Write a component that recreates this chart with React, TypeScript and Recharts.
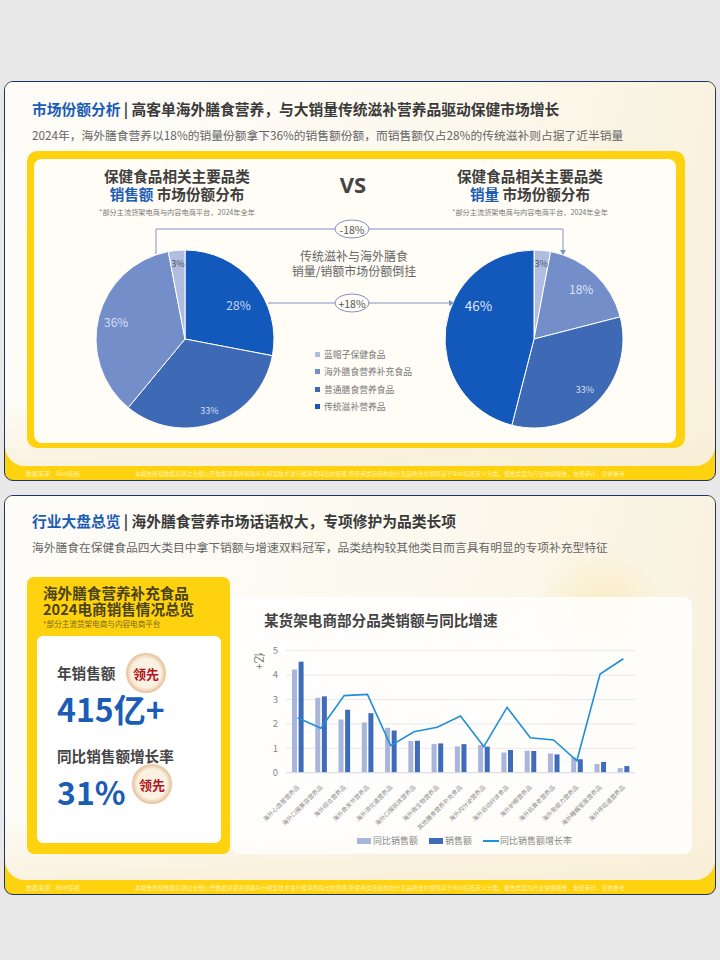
import React from 'react';
import { PieChart, Pie, Cell, ComposedChart, Bar, Line, XAxis, YAxis, CartesianGrid, Legend } from 'recharts';

const pieCategories = ['蓝帽子保健食品', '海外膳食营养补充食品', '普通膳食营养食品', '传统滋补营养品'];
const salesValueShare = [28, 33, 36, 3];
const salesValueCats = [3, 2, 1, 0];
const salesVolumeShare = [3, 18, 33, 46];
const salesVolumeCats = [0, 1, 2, 3];
const pieColors = ['#B1BDE0', '#748EC9', '#3E69B5', '#1358BB'];

const barCategories = ['海外心血管营养品', '海外口服美容营养品', '海外综合营养品', '海外骨关节营养品', '海外消化道营养品', '海外口服抗体营养品', '海外微生物营养品', '其他膳食营养补充食品', '海外内分泌营养品', '海外运动纤体食品', '海外护眼营养品', '海外抗衰老营养品', '海外免疫力营养品', '海外睡眠家居营养品', '海外呼吸道营养品'];
const prevSales = [4.23, 3.07, 2.18, 2.06, 1.84, 1.3, 1.18, 1.08, 1.13, 0.83, 0.9, 0.79, 0.63, 0.36, 0.19];
const sales = [4.55, 3.13, 2.58, 2.44, 1.73, 1.31, 1.2, 1.17, 1.07, 0.93, 0.89, 0.75, 0.55, 0.44, 0.27];
const growth = [2.25, 1.82, 3.16, 3.21, 1.11, 1.68, 1.86, 2.32, 1.07, 2.68, 1.43, 1.34, 0.49, 4.04, 4.67];
const yTicks = [0, 1, 2, 3, 4, 5];

const barData = barCategories.map((name, i) => ({ name, prev: prevSales[i], sales: sales[i], growth: growth[i] }));
const leftData = salesValueShare.map((value, i) => ({ name: pieCategories[salesValueCats[i]], value, cat: salesValueCats[i] }));
const rightData = salesVolumeShare.map((value, i) => ({ name: pieCategories[salesVolumeCats[i]], value, cat: salesVolumeCats[i] }));

const leftLabelStyle = [
  { r: 63, dx: 5, dy: 6, size: 12, fill: '#C9D6F0' },
  { r: 75, dx: -1, dy: 1, size: 9, fill: '#D5DFF3' },
  { r: 71, dx: 0, dy: 0, size: 12, fill: '#D5DFF3' },
  { r: 76, dx: 0, dy: 0, size: 9, fill: '#4A4F66' },
];
const rightLabelStyle = [
  { r: 76, dx: 0, dy: 0, size: 9, fill: '#4A4F66' },
  { r: 69, dx: 0, dy: 0, size: 12, fill: '#DCE4F6' },
  { r: 72, dx: 0, dy: 0, size: 9, fill: '#D5DFF3' },
  { r: 56, dx: 0, dy: -27, size: 13.5, fill: '#DCE4F6' },
];

const FONT = '"Noto Sans CJK SC", "Noto Sans", sans-serif';
const abs = (left: number, top: number, extra: React.CSSProperties = {}): React.CSSProperties => ({ position: 'absolute', left, top, ...extra });

function pieLabel(styles: typeof leftLabelStyle) {
  return (p: any) => {
    const s = styles[p.index];
    const rad = (p.midAngle * Math.PI) / 180;
    const x = p.cx + s.r * Math.cos(rad) + s.dx;
    const y = p.cy - s.r * Math.sin(rad) + s.dy;
    return (
      <text x={x} y={y} textAnchor="middle" dominantBaseline="central" fontSize={s.size} fill={s.fill} fontFamily={FONT}>
        {p.value}%
      </text>
    );
  };
}

function SharePie({ data, styles, left }: { data: typeof leftData; styles: typeof leftLabelStyle; left: number }) {
  return (
    <div style={abs(left, 239)}>
      <PieChart width={200} height={200} margin={{ top: 0, right: 0, bottom: 0, left: 0 }}>
        <Pie data={data} dataKey="value" cx={100} cy={100} outerRadius={89} innerRadius={0} startAngle={90} endAngle={-270} stroke="#FFFFFF" strokeWidth={1} label={pieLabel(styles)} labelLine={false} isAnimationActive={false}>
          {data.map((d) => <Cell key={d.name} fill={pieColors[d.cat]} />)}
        </Pie>
      </PieChart>
    </div>
  );
}

function XTick(props: any) {
  const { x, y, payload } = props;
  return (
    <text transform={`translate(${x + 2},${y + 7}) rotate(-45)`} textAnchor="end" fontSize={6} fill="#8A8A8A" fontFamily={FONT}>
      {payload.value}
    </text>
  );
}

function ChartLegend({ payload }: any) {
  return (
    <div style={{ display: 'flex', alignItems: 'center', fontSize: 9, color: '#888', fontFamily: FONT, whiteSpace: 'nowrap' }}>
      {(payload || []).map((e: any) => (
        <span key={e.value} style={{ display: 'flex', alignItems: 'center', marginRight: 11 }}>
          {e.type === 'line'
            ? <span style={{ width: 16, height: 2, background: e.color, marginRight: 1 }} />
            : <span style={{ width: 14, height: 6, background: e.color, marginRight: 2 }} />}
          {e.value}
        </span>
      ))}
    </div>
  );
}

function Badge({ left, top }: { left: number; top: number }) {
  return (
    <div style={abs(left, top, { width: 40, height: 40, borderRadius: '50%', background: 'radial-gradient(circle, #FBF1E2 0 52%, #E4BC90 72%, #E9C9A3 100%)', display: 'flex', alignItems: 'center', justifyContent: 'center', color: '#B0141C', fontWeight: 700, fontSize: 13 })}>
      领先
    </div>
  );
}

function Card({ top, children }: { top: number; children: React.ReactNode }) {
  return (
    <div style={abs(4, top, { width: 712, height: 400, boxSizing: 'border-box', border: '1px solid #1B3566', borderRadius: 9, background: '#FFD20F', overflow: 'hidden' })}>
      <div style={abs(0, 0, { width: 710, height: 384, borderRadius: '0 0 20px 20px', background: 'linear-gradient(178deg, rgba(253,252,247,0) 78%, #F9EFD8 100%), linear-gradient(100deg, #FDFCF8 0%, #FCF9EF 55%, #F9F1DD 100%)' })} />
      <div style={abs(21, 387, { fontSize: 6, color: '#FFF3B5', whiteSpace: 'nowrap' })}>数据来源：Nint任拓</div>
      <div style={abs(130, 387, { fontSize: 5.75, color: '#FFF3B5', whiteSpace: 'nowrap' })}>
        本报告所载数据基通过合规公开数据资源并借助AI大模型技术进行推算而得出的结果,所使用类目结构划分及品牌合并规则基于Nint任拓定义分类。报告类型为行业快捷报告，未经审计，仅供参考
      </div>
      {children}
    </div>
  );
}

function Header({ blue, rest, sub, top }: { blue: string; rest: string; sub: string; top: number }) {
  return (
    <>
      <div style={abs(27, top, { fontSize: 14.75, fontWeight: 700, color: '#3A3A3A', whiteSpace: 'nowrap', lineHeight: '20px' })}>
        <span style={{ color: '#1B5CB5' }}>{blue}</span> | {rest}
      </div>
      <div style={abs(27, top + 27, { fontSize: 11.75, color: '#666', whiteSpace: 'nowrap', lineHeight: '18px' })}>{sub}</div>
    </>
  );
}

function PieHead({ center, blue, note }: { center: number; blue: string; note: string }) {
  return (
    <div style={abs(center - 110, 167, { width: 220, textAlign: 'center', color: '#3F3F3F', fontWeight: 700, fontSize: 14.6, lineHeight: '18px' })}>
      <div>保健食品相关主要品类</div>
      <div><span style={{ color: '#1B5CB5' }}>{blue}</span> 市场份额分布</div>
      <div style={{ fontSize: 7.2, fontWeight: 400, color: '#777', lineHeight: '12px', marginTop: 3 }}>{note}</div>
    </div>
  );
}

export default function App() {
  const note = '*部分主流货架电商与内容电商平台，2024年全年';
  return (
    <div style={{ position: 'absolute', left: 0, top: 0, width: 720, height: 960, background: '#E8E8E9', fontFamily: FONT, overflow: 'hidden' }}>
      <Card top={81}>
        <div style={abs(560, 50, { width: 130, height: 130, borderRadius: '50%', background: 'radial-gradient(circle, rgba(245,228,180,.35), rgba(245,228,180,0) 70%)' })} />
        <Header top={17} blue="市场份额分析" rest="高客单海外膳食营养，与大销量传统滋补营养品驱动保健市场增长"
          sub="2024年，海外膳食营养以18%的销量份额拿下36%的销售额份额，而销售额仅占28%的传统滋补则占据了近半销量" />
      </Card>
      <div style={abs(27, 151, { width: 658, height: 297, boxSizing: 'border-box', background: '#FFD20F', borderRadius: 10 })} />
      <div style={abs(34, 159, { width: 642, height: 284, background: '#FFFDF5', borderRadius: 8 })} />
      <PieHead center={177} blue="销售额" note={note} />
      <PieHead center={530} blue="销量" note={note} />
      <div style={abs(325, 170, { width: 56, textAlign: 'center', fontSize: 22, fontWeight: 700, color: '#444', lineHeight: '28px', fontFamily: '"Noto Sans", sans-serif' })}>VS</div>
      <SharePie data={leftData} styles={leftLabelStyle} left={85} />
      <SharePie data={rightData} styles={rightLabelStyle} left={434} />
      <svg width={720} height={480} style={abs(0, 0)}>
        <path d="M156 254 V229 H563 V251" fill="none" stroke="#7E92C6" strokeWidth={1} />
        <path d="M560 250 L566 250 L563 255 Z" fill="#7E92C6" />
        <path d="M268 303 H449" fill="none" stroke="#7E92C6" strokeWidth={1} />
        <path d="M449 300 L449 306 L454 303 Z" fill="#7E92C6" />
        <ellipse cx={352} cy={229} rx={17} ry={9} fill="#FFFDF5" stroke="#7E92C6" />
        <ellipse cx={352} cy={303} rx={17} ry={9} fill="#FFFDF5" stroke="#7E92C6" />
        <text x={352} y={229} textAnchor="middle" dominantBaseline="central" fontSize={10.5} fill="#555" fontFamily={FONT}>-18%</text>
        <text x={352} y={303} textAnchor="middle" dominantBaseline="central" fontSize={10.5} fill="#555" fontFamily={FONT}>+18%</text>
      </svg>
      <div style={abs(279, 249, { width: 150, textAlign: 'center', fontSize: 12, color: '#666', lineHeight: '14.5px' })}>
        传统滋补与海外膳食<br />销量/销额市场份额倒挂
      </div>
      {pieCategories.map((c, i) => (
        <div key={c} style={abs(315, 348 + i * 17.4, { display: 'flex', alignItems: 'center', fontSize: 8.8, color: '#777', whiteSpace: 'nowrap', lineHeight: '13px' })}>
          <span style={{ width: 5, height: 5, background: pieColors[i], marginRight: 4 }} />{c}
        </div>
      ))}

      <Card top={495}>
        <div style={abs(530, 50, { width: 130, height: 130, borderRadius: '50%', background: 'radial-gradient(circle, rgba(248,228,165,.55), rgba(248,228,165,0) 70%)' })} />
        <Header top={15} blue="行业大盘总览" rest="海外膳食营养市场话语权大，专项修护为品类长项"
          sub="海外膳食在保健食品四大类目中拿下销额与增速双料冠军，品类结构较其他类目而言具有明显的专项补充型特征" />
      </Card>
      <div style={abs(27, 577, { width: 203, height: 277, background: '#FFD20F', borderRadius: 7 })} />
      <div style={abs(43, 585, { fontSize: 14.6, fontWeight: 700, color: '#4A4318', lineHeight: '15.5px', whiteSpace: 'nowrap' })}>海外膳食营养补充食品<br />2024电商销售情况总览</div>
      <div style={abs(43, 619, { fontSize: 7.6, color: '#7B6A1E', lineHeight: '10px', whiteSpace: 'nowrap' })}>*部分主流货架电商与内容电商平台</div>
      <div style={abs(37, 636, { width: 184, height: 207, background: '#FFFFFF', borderRadius: 6 })} />
      <div style={abs(57, 663, { fontSize: 14.6, fontWeight: 700, color: '#444', lineHeight: '20px' })}>年销售额</div>
      <Badge left={126} top={653} />
      <div style={abs(57, 685, { fontSize: 32, fontWeight: 700, color: '#1B5CB5', lineHeight: '46px' })}>415亿+</div>
      <div style={abs(57, 746, { fontSize: 14.6, fontWeight: 700, color: '#444', lineHeight: '20px' })}>同比销售额增长率</div>
      <div style={abs(57, 768, { fontSize: 32, fontWeight: 700, color: '#1B5CB5', lineHeight: '46px' })}>31%</div>
      <Badge left={132} top={764} />

      <div style={abs(232, 597, { width: 460, height: 257, background: 'rgba(255,255,255,.82)', borderRadius: 8 })} />
      <div style={abs(264, 610, { fontSize: 14.6, fontWeight: 700, color: '#444', lineHeight: '20px' })}>某货架电商部分品类销额与同比增速</div>
      <div style={abs(251, 654, { fontSize: 11, color: '#777', transform: 'rotate(90deg)', lineHeight: '14px' })}>亿+</div>

      <div style={abs(240, 640)}>
        <ComposedChart width={395} height={215} data={barData} barSize={5} barGap={1.6} margin={{ top: 10.7, right: 0, bottom: 0, left: 0 }}>
          <CartesianGrid vertical={false} stroke="#E8E8E8" />
          <XAxis dataKey="name" interval={0} height={82.3} tick={<XTick />} tickLine={false} axisLine={{ stroke: '#DDDDE8' }} />
          <YAxis width={46} domain={[0, 5]} ticks={yTicks} tick={{ fontSize: 9.5, fill: '#888', fontFamily: FONT }} tickLine={false} axisLine={false} />
          <Bar dataKey="prev" name="同比销售额" fill="#A9B6DC" isAnimationActive={false} />
          <Bar dataKey="sales" name="销售额" fill="#3F6CB8" isAnimationActive={false} />
          <Line dataKey="growth" name="同比销售额增长率" type="linear" stroke="#1F8FD8" strokeWidth={1.6} dot={false} activeDot={false} isAnimationActive={false} />
          <Legend layout="horizontal" verticalAlign="middle" align="center" itemSorter={null as any} content={<ChartLegend />} wrapperStyle={{ top: 194, left: 117, width: 300, height: 14 }} />
        </ComposedChart>
      </div>
    </div>
  );
}
